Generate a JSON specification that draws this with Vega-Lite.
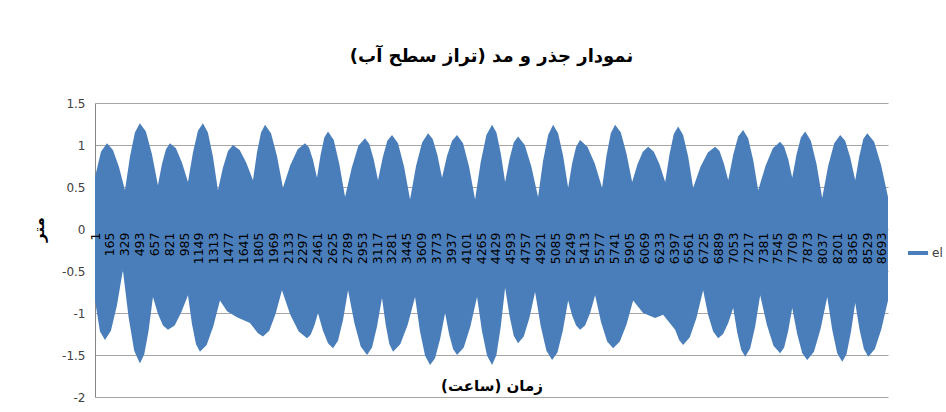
{
 "$schema": "https://vega.github.io/schema/vega-lite/v6.json",
 "width": 793,
 "height": 294,
 "autosize": {"type": "none"},
 "padding": {"left": 95, "top": 103, "right": 58, "bottom": 15},
 "background": "white",
 "title": {"text": "نمودار جذر و مد (تراز سطح آب)", "font": "DejaVu Sans", "fontSize": 18, "fontWeight": "bold", "color": "#000000", "anchor": "middle", "baseline": "bottom", "offset": 13},
 "data": {"values": [
  {"t":1,"v":0.62,"s":"h"},{"t":67,"v":0.92,"s":"h"},{"t":133,"v":1.02,"s":"h"},{"t":199,"v":0.94,"s":"h"},{"t":265,"v":0.74,"s":"h"},{"t":332,"v":0.46,"s":"h"},{"t":387,"v":0.86,"s":"h"},{"t":442,"v":1.15,"s":"h"},{"t":497,"v":1.26,"s":"h"},{"t":563,"v":1.16,"s":"h"},{"t":630,"v":0.89,"s":"h"},{"t":696,"v":0.52,"s":"h"},{"t":740,"v":0.77,"s":"h"},{"t":785,"v":0.95,"s":"h"},{"t":829,"v":1.02,"s":"h"},{"t":895,"v":0.96,"s":"h"},{"t":962,"v":0.79,"s":"h"},{"t":1028,"v":0.56,"s":"h"},{"t":1083,"v":0.91,"s":"h"},{"t":1138,"v":1.17,"s":"h"},{"t":1193,"v":1.26,"s":"h"},{"t":1248,"v":1.15,"s":"h"},{"t":1304,"v":0.86,"s":"h"},{"t":1359,"v":0.46,"s":"h"},{"t":1414,"v":0.73,"s":"h"},{"t":1470,"v":0.93,"s":"h"},{"t":1525,"v":1.00,"s":"h"},{"t":1599,"v":0.94,"s":"h"},{"t":1672,"v":0.79,"s":"h"},{"t":1746,"v":0.58,"s":"h"},{"t":1790,"v":0.91,"s":"h"},{"t":1835,"v":1.15,"s":"h"},{"t":1879,"v":1.24,"s":"h"},{"t":1945,"v":1.14,"s":"h"},{"t":2011,"v":0.87,"s":"h"},{"t":2077,"v":0.49,"s":"h"},{"t":2158,"v":0.76,"s":"h"},{"t":2240,"v":0.95,"s":"h"},{"t":2321,"v":1.02,"s":"h"},{"t":2365,"v":0.97,"s":"h"},{"t":2409,"v":0.82,"s":"h"},{"t":2453,"v":0.61,"s":"h"},{"t":2494,"v":0.89,"s":"h"},{"t":2534,"v":1.09,"s":"h"},{"t":2575,"v":1.16,"s":"h"},{"t":2638,"v":1.06,"s":"h"},{"t":2700,"v":0.77,"s":"h"},{"t":2763,"v":0.38,"s":"h"},{"t":2837,"v":0.73,"s":"h"},{"t":2910,"v":0.99,"s":"h"},{"t":2984,"v":1.08,"s":"h"},{"t":3032,"v":1.01,"s":"h"},{"t":3079,"v":0.83,"s":"h"},{"t":3127,"v":0.58,"s":"h"},{"t":3179,"v":0.85,"s":"h"},{"t":3230,"v":1.05,"s":"h"},{"t":3282,"v":1.12,"s":"h"},{"t":3348,"v":1.02,"s":"h"},{"t":3415,"v":0.74,"s":"h"},{"t":3481,"v":0.35,"s":"h"},{"t":3547,"v":0.75,"s":"h"},{"t":3614,"v":1.03,"s":"h"},{"t":3680,"v":1.14,"s":"h"},{"t":3731,"v":1.07,"s":"h"},{"t":3783,"v":0.88,"s":"h"},{"t":3834,"v":0.61,"s":"h"},{"t":3889,"v":0.87,"s":"h"},{"t":3945,"v":1.05,"s":"h"},{"t":4000,"v":1.12,"s":"h"},{"t":4066,"v":1.02,"s":"h"},{"t":4133,"v":0.74,"s":"h"},{"t":4199,"v":0.35,"s":"h"},{"t":4262,"v":0.80,"s":"h"},{"t":4324,"v":1.12,"s":"h"},{"t":4387,"v":1.24,"s":"h"},{"t":4435,"v":1.15,"s":"h"},{"t":4483,"v":0.90,"s":"h"},{"t":4531,"v":0.56,"s":"h"},{"t":4579,"v":0.83,"s":"h"},{"t":4626,"v":1.03,"s":"h"},{"t":4674,"v":1.10,"s":"h"},{"t":4748,"v":1.00,"s":"h"},{"t":4821,"v":0.74,"s":"h"},{"t":4895,"v":0.38,"s":"h"},{"t":4950,"v":0.81,"s":"h"},{"t":5006,"v":1.12,"s":"h"},{"t":5061,"v":1.24,"s":"h"},{"t":5116,"v":1.14,"s":"h"},{"t":5172,"v":0.87,"s":"h"},{"t":5227,"v":0.49,"s":"h"},{"t":5271,"v":0.78,"s":"h"},{"t":5315,"v":0.98,"s":"h"},{"t":5359,"v":1.06,"s":"h"},{"t":5440,"v":0.98,"s":"h"},{"t":5521,"v":0.78,"s":"h"},{"t":5602,"v":0.49,"s":"h"},{"t":5650,"v":0.87,"s":"h"},{"t":5698,"v":1.14,"s":"h"},{"t":5746,"v":1.24,"s":"h"},{"t":5809,"v":1.15,"s":"h"},{"t":5871,"v":0.90,"s":"h"},{"t":5934,"v":0.56,"s":"h"},{"t":5993,"v":0.77,"s":"h"},{"t":6052,"v":0.92,"s":"h"},{"t":6111,"v":0.98,"s":"h"},{"t":6174,"v":0.92,"s":"h"},{"t":6236,"v":0.77,"s":"h"},{"t":6299,"v":0.56,"s":"h"},{"t":6347,"v":0.89,"s":"h"},{"t":6394,"v":1.13,"s":"h"},{"t":6442,"v":1.22,"s":"h"},{"t":6497,"v":1.12,"s":"h"},{"t":6553,"v":0.86,"s":"h"},{"t":6608,"v":0.49,"s":"h"},{"t":6689,"v":0.74,"s":"h"},{"t":6770,"v":0.91,"s":"h"},{"t":6851,"v":0.98,"s":"h"},{"t":6899,"v":0.93,"s":"h"},{"t":6947,"v":0.78,"s":"h"},{"t":6995,"v":0.58,"s":"h"},{"t":7050,"v":0.88,"s":"h"},{"t":7105,"v":1.10,"s":"h"},{"t":7160,"v":1.18,"s":"h"},{"t":7215,"v":1.08,"s":"h"},{"t":7271,"v":0.82,"s":"h"},{"t":7326,"v":0.46,"s":"h"},{"t":7407,"v":0.75,"s":"h"},{"t":7488,"v":0.96,"s":"h"},{"t":7569,"v":1.04,"s":"h"},{"t":7613,"v":0.98,"s":"h"},{"t":7658,"v":0.83,"s":"h"},{"t":7702,"v":0.61,"s":"h"},{"t":7750,"v":0.89,"s":"h"},{"t":7798,"v":1.09,"s":"h"},{"t":7846,"v":1.16,"s":"h"},{"t":7908,"v":1.05,"s":"h"},{"t":7971,"v":0.77,"s":"h"},{"t":8033,"v":0.37,"s":"h"},{"t":8099,"v":0.75,"s":"h"},{"t":8166,"v":1.02,"s":"h"},{"t":8232,"v":1.12,"s":"h"},{"t":8287,"v":1.05,"s":"h"},{"t":8343,"v":0.85,"s":"h"},{"t":8398,"v":0.58,"s":"h"},{"t":8442,"v":0.86,"s":"h"},{"t":8487,"v":1.07,"s":"h"},{"t":8531,"v":1.14,"s":"h"},{"t":8607,"v":1.04,"s":"h"},{"t":8684,"v":0.76,"s":"h"},{"t":8760,"v":0.38,"s":"h"},
  {"t":1,"v":-0.85,"s":"l"},{"t":56,"v":-1.22,"s":"l"},{"t":111,"v":-1.32,"s":"l"},{"t":177,"v":-1.21,"s":"l"},{"t":243,"v":-0.91,"s":"l"},{"t":309,"v":-0.49,"s":"l"},{"t":372,"v":-1.05,"s":"l"},{"t":434,"v":-1.45,"s":"l"},{"t":497,"v":-1.60,"s":"l"},{"t":545,"v":-1.49,"s":"l"},{"t":593,"v":-1.21,"s":"l"},{"t":641,"v":-0.81,"s":"l"},{"t":696,"v":-1.01,"s":"l"},{"t":752,"v":-1.15,"s":"l"},{"t":807,"v":-1.20,"s":"l"},{"t":881,"v":-1.15,"s":"l"},{"t":954,"v":-0.99,"s":"l"},{"t":1028,"v":-0.79,"s":"l"},{"t":1072,"v":-1.13,"s":"l"},{"t":1116,"v":-1.37,"s":"l"},{"t":1160,"v":-1.46,"s":"l"},{"t":1234,"v":-1.38,"s":"l"},{"t":1307,"v":-1.16,"s":"l"},{"t":1381,"v":-0.85,"s":"l"},{"t":1460,"v":-0.98,"s":"l"},{"t":1569,"v":-1.05,"s":"l"},{"t":1713,"v":-1.12,"s":"l"},{"t":1801,"v":-1.24,"s":"l"},{"t":1856,"v":-1.28,"s":"l"},{"t":1926,"v":-1.21,"s":"l"},{"t":1996,"v":-1.01,"s":"l"},{"t":2066,"v":-0.73,"s":"l"},{"t":2158,"v":-1.02,"s":"l"},{"t":2251,"v":-1.22,"s":"l"},{"t":2343,"v":-1.30,"s":"l"},{"t":2383,"v":-1.26,"s":"l"},{"t":2424,"v":-1.15,"s":"l"},{"t":2464,"v":-1.00,"s":"l"},{"t":2519,"v":-1.21,"s":"l"},{"t":2575,"v":-1.36,"s":"l"},{"t":2630,"v":-1.42,"s":"l"},{"t":2685,"v":-1.33,"s":"l"},{"t":2741,"v":-1.08,"s":"l"},{"t":2796,"v":-0.73,"s":"l"},{"t":2866,"v":-1.12,"s":"l"},{"t":2936,"v":-1.40,"s":"l"},{"t":3006,"v":-1.50,"s":"l"},{"t":3061,"v":-1.41,"s":"l"},{"t":3116,"v":-1.16,"s":"l"},{"t":3171,"v":-0.82,"s":"l"},{"t":3212,"v":-1.14,"s":"l"},{"t":3252,"v":-1.37,"s":"l"},{"t":3293,"v":-1.46,"s":"l"},{"t":3374,"v":-1.37,"s":"l"},{"t":3455,"v":-1.14,"s":"l"},{"t":3536,"v":-0.81,"s":"l"},{"t":3591,"v":-1.22,"s":"l"},{"t":3647,"v":-1.51,"s":"l"},{"t":3702,"v":-1.62,"s":"l"},{"t":3757,"v":-1.54,"s":"l"},{"t":3813,"v":-1.31,"s":"l"},{"t":3868,"v":-1.00,"s":"l"},{"t":3912,"v":-1.25,"s":"l"},{"t":3956,"v":-1.43,"s":"l"},{"t":4000,"v":-1.50,"s":"l"},{"t":4074,"v":-1.41,"s":"l"},{"t":4147,"v":-1.16,"s":"l"},{"t":4221,"v":-0.81,"s":"l"},{"t":4276,"v":-1.22,"s":"l"},{"t":4332,"v":-1.51,"s":"l"},{"t":4387,"v":-1.62,"s":"l"},{"t":4435,"v":-1.50,"s":"l"},{"t":4483,"v":-1.16,"s":"l"},{"t":4531,"v":-0.70,"s":"l"},{"t":4579,"v":-1.03,"s":"l"},{"t":4626,"v":-1.27,"s":"l"},{"t":4674,"v":-1.36,"s":"l"},{"t":4737,"v":-1.28,"s":"l"},{"t":4799,"v":-1.06,"s":"l"},{"t":4862,"v":-0.75,"s":"l"},{"t":4925,"v":-1.16,"s":"l"},{"t":4987,"v":-1.45,"s":"l"},{"t":5050,"v":-1.56,"s":"l"},{"t":5109,"v":-1.47,"s":"l"},{"t":5168,"v":-1.21,"s":"l"},{"t":5227,"v":-0.85,"s":"l"},{"t":5271,"v":-1.03,"s":"l"},{"t":5315,"v":-1.15,"s":"l"},{"t":5359,"v":-1.20,"s":"l"},{"t":5414,"v":-1.15,"s":"l"},{"t":5470,"v":-1.00,"s":"l"},{"t":5525,"v":-0.79,"s":"l"},{"t":5591,"v":-1.11,"s":"l"},{"t":5658,"v":-1.34,"s":"l"},{"t":5724,"v":-1.42,"s":"l"},{"t":5798,"v":-1.34,"s":"l"},{"t":5871,"v":-1.14,"s":"l"},{"t":5945,"v":-0.85,"s":"l"},{"t":6055,"v":-1.00,"s":"l"},{"t":6188,"v":-1.06,"s":"l"},{"t":6276,"v":-1.02,"s":"l"},{"t":6409,"v":-1.20,"s":"l"},{"t":6453,"v":-1.32,"s":"l"},{"t":6497,"v":-1.38,"s":"l"},{"t":6571,"v":-1.29,"s":"l"},{"t":6644,"v":-1.06,"s":"l"},{"t":6718,"v":-0.73,"s":"l"},{"t":6773,"v":-1.02,"s":"l"},{"t":6829,"v":-1.22,"s":"l"},{"t":6884,"v":-1.30,"s":"l"},{"t":6939,"v":-1.25,"s":"l"},{"t":6995,"v":-1.12,"s":"l"},{"t":7050,"v":-0.94,"s":"l"},{"t":7094,"v":-1.23,"s":"l"},{"t":7139,"v":-1.44,"s":"l"},{"t":7183,"v":-1.52,"s":"l"},{"t":7238,"v":-1.42,"s":"l"},{"t":7293,"v":-1.16,"s":"l"},{"t":7348,"v":-0.79,"s":"l"},{"t":7422,"v":-1.14,"s":"l"},{"t":7495,"v":-1.39,"s":"l"},{"t":7569,"v":-1.48,"s":"l"},{"t":7613,"v":-1.41,"s":"l"},{"t":7658,"v":-1.21,"s":"l"},{"t":7702,"v":-0.94,"s":"l"},{"t":7757,"v":-1.25,"s":"l"},{"t":7813,"v":-1.48,"s":"l"},{"t":7868,"v":-1.56,"s":"l"},{"t":7942,"v":-1.46,"s":"l"},{"t":8015,"v":-1.19,"s":"l"},{"t":8089,"v":-0.81,"s":"l"},{"t":8144,"v":-1.20,"s":"l"},{"t":8199,"v":-1.48,"s":"l"},{"t":8254,"v":-1.58,"s":"l"},{"t":8302,"v":-1.49,"s":"l"},{"t":8350,"v":-1.23,"s":"l"},{"t":8398,"v":-0.88,"s":"l"},{"t":8446,"v":-1.20,"s":"l"},{"t":8494,"v":-1.43,"s":"l"},{"t":8542,"v":-1.52,"s":"l"},{"t":8615,"v":-1.43,"s":"l"},{"t":8687,"v":-1.19,"s":"l"},{"t":8760,"v":-0.85,"s":"l"}
 ]},
 "mark": {"type": "area", "interpolate": "linear", "opacity": 1},
 "encoding": {
  "x": {"field": "t", "type": "quantitative", "scale": {"domain": [1, 8760], "nice": false, "zero": false},
   "axis": {"title": "زمان (ساعت)", "values": [1,165,329,493,657,821,985,1149,1313,1477,1641,1805,1969,2133,2297,2461,2625,2789,2953,3117,3281,3445,3609,3773,3937,4101,4265,4429,4593,4757,4921,5085,5249,5413,5577,5741,5905,6069,6233,6397,6561,6725,6889,7053,7217,7381,7545,7709,7873,8037,8201,8365,8529,8693],
    "format": "d", "labelAngle": -90, "labelAlign": "right", "labelBaseline": "middle", "labelPadding": 3, "labelFontSize": 12.5, "labelFont": "DejaVu Sans", "labelColor": "#000000", "labelOverlap": false, "labelFlush": false, "ticks": false, "domain": false, "grid": false, "offset": -168, "zindex": 1,
    "titleFont": "DejaVu Sans", "titleFontSize": 15, "titleFontWeight": "bold", "titleColor": "#000000", "titleY": 156, "titleBaseline": "middle"}},
  "y": {"field": "v", "type": "quantitative", "stack": null, "scale": {"domain": [-2, 1.5], "nice": false, "zero": false},
   "axis": {"title": "متر", "values": [-2,-1.5,-1,-0.5,0,0.5,1,1.5], "labelExpr": "'' + datum.value", "ticks": false, "labelPadding": 10, "labelFontSize": 12, "labelFont": "DejaVu Sans", "labelColor": "#404040", "domainColor": "#868686", "gridColor": "#a6a6a6", "grid": true,
    "titleX": -57, "titleY": 126, "titleAlign": "center", "titleBaseline": "middle", "titleAngle": -90, "titleFont": "DejaVu Sans", "titleFontSize": 15, "titleFontWeight": "bold", "titleColor": "#000000"}},
  "y2": {"datum": 0},
  "detail": {"field": "s"},
  "color": {"datum": "el", "scale": {"range": ["#4a7ebb"]},
   "legend": {"title": null, "orient": "none", "legendX": 811, "legendY": 138, "symbolType": "stroke", "symbolSize": 400, "symbolStrokeWidth": 4, "symbolStrokeColor": "#4a7ebb", "labelFontSize": 12, "labelFont": "DejaVu Sans", "labelColor": "#404040", "labelOffset": 2}}
 },
 "config": {"view": {"stroke": null}, "font": "DejaVu Sans"}
}
